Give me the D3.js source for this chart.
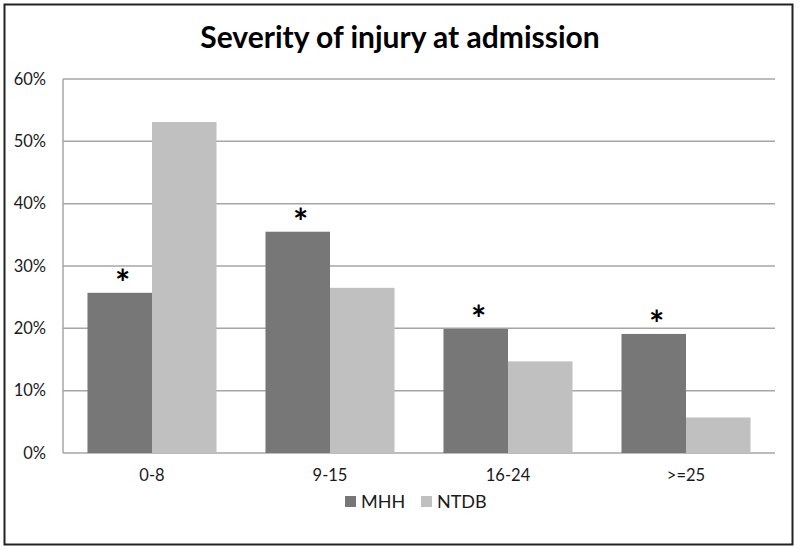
<!DOCTYPE html>
<html><head><meta charset="utf-8">
<script src="https://cdn.jsdelivr.net/npm/d3@7"></script>
<style>body{margin:0;background:#fff;} svg{display:block;font-family:Lato,"Open Sans",sans-serif;}</style>
</head><body>
<svg id="c" width="800" height="550"></svg>
<script>
const categories = ["0-8","9-15","16-24",">=25"];
const seriesNames = ["MHH","NTDB"];
const mhhValues = [25.7, 35.5, 19.9, 19.1];
const ntdbValues = [53.1, 26.5, 14.7, 5.7];
const significant = [true, true, true, true];
const yTicks = [0,10,20,30,40,50,60];
const colors = {MHH:"#777777", NTDB:"#c0c0c0"};

const svg = d3.select("#c");
const m = {left:63, right:775, top:79, bottom:453};

svg.append("rect").attr("x",4.5).attr("y",4.5).attr("width",788).attr("height",540)
  .attr("fill","#fff").attr("stroke","#222").attr("stroke-width",2);

svg.append("text").attr("x",400).attr("y",48).attr("text-anchor","middle")
  .attr("font-size",30).attr("font-weight","bold").attr("fill","#000")
  .text("Severity of injury at admission");

const x0 = d3.scaleBand().domain(categories).range([m.left,m.right]).paddingInner(0.275).paddingOuter(0.1375);
const x1 = d3.scaleBand().domain(seriesNames).range([0,x0.bandwidth()]);
const y = d3.scaleLinear().domain([0,60]).range([m.bottom,m.top]);

// gridlines
svg.append("g").selectAll("line").data(yTicks).join("line")
  .attr("x1",m.left).attr("x2",m.right).attr("y1",d=>y(d)).attr("y2",d=>y(d))
  .attr("stroke","#a6a6a6").attr("stroke-width",1.5);
svg.append("line").attr("x1",m.left).attr("x2",m.left).attr("y1",m.top).attr("y2",m.bottom)
  .attr("stroke","#a6a6a6").attr("stroke-width",1.5);

// y labels
const yAxis = d3.axisLeft(y).tickValues(yTicks).tickFormat(d=>d+"%").tickSize(0).tickPadding(17);
const ga = svg.append("g").attr("transform",`translate(${m.left},0)`).call(yAxis);
ga.select(".domain").remove();
ga.selectAll("text").attr("font-size",16.5).attr("fill","#1a1a1a").attr("font-family","Lato, sans-serif");

// x labels
const xAxis = d3.axisBottom(x0).tickSize(0).tickPadding(16);
const gx = svg.append("g").attr("transform",`translate(0,${m.bottom})`).call(xAxis);
gx.select(".domain").remove();
gx.selectAll("text").attr("font-size",16.5).attr("fill","#1a1a1a").attr("font-family","Lato, sans-serif");

const rows = categories.map((c,i)=>({cat:c, MHH:mhhValues[i], NTDB:ntdbValues[i], sig:significant[i]}));
const g = svg.append("g").selectAll("g").data(rows).join("g")
  .attr("transform",d=>`translate(${x0(d.cat)},0)`);
g.selectAll("rect").data(d=>seriesNames.map(s=>({s, v:d[s]}))).join("rect")
  .attr("x",d=>x1(d.s)).attr("width",x1.bandwidth())
  .attr("y",d=>y(d.v)).attr("height",d=>y(0)-y(d.v)).attr("fill",d=>colors[d.s]);
g.filter(d=>d.sig).append("text")
  .attr("x",x1("MHH")+x1.bandwidth()/2+3).attr("y",d=>y(d.MHH)+3)
  .attr("text-anchor","middle").attr("font-size",36).attr("font-weight","bold").attr("fill","#000")
  .text("*");

// legend
const lg = svg.append("g").selectAll("g").data(seriesNames).join("g")
  .attr("transform",(d,i)=>`translate(${345+i*76},496)`);
lg.append("rect").attr("width",11).attr("height",11).attr("fill",d=>colors[d]);
lg.append("text").attr("x",16).attr("y",11.5).attr("font-size",18).attr("fill","#1a1a1a").text(d=>d);
</script>
</body></html>
